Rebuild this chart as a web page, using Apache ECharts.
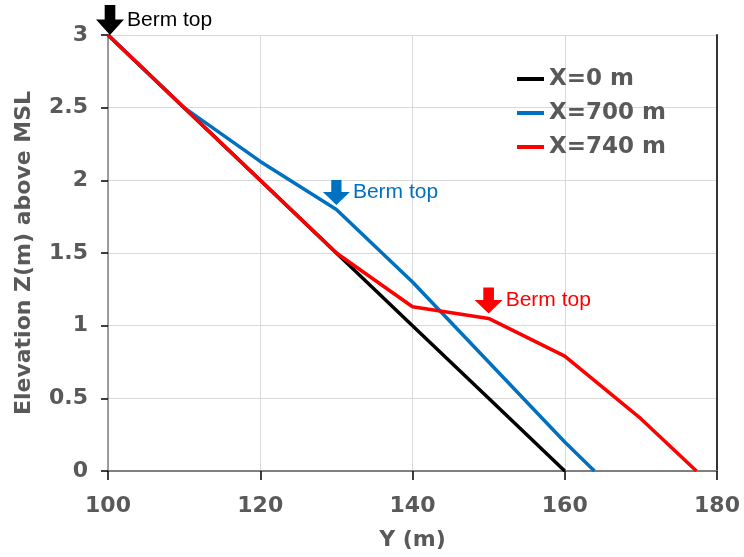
<!DOCTYPE html>
<html>
<head>
<meta charset="utf-8">
<script src="https://cdn.jsdelivr.net/npm/echarts@6/dist/echarts.min.js"></script>
<style>html,body{margin:0;padding:0;background:#fff}#c{width:744px;height:557px}</style>
</head>
<body>
<div id="c"></div>
<script>
const seriesNames = ['X=0 m', 'X=700 m', 'X=740 m'];
const blackY = [100, 110, 120, 130, 140, 150, 160];
const blackZ = [3, 2.5, 2, 1.5, 1, 0.5, 0];
const blueY = [100, 110, 120, 130, 140, 150, 160, 163.9];
const blueZ = [3, 2.5, 2.13, 1.8, 1.3, 0.75, 0.2, 0];
const redY = [100, 110, 120, 130, 140, 150, 160, 170, 177.3];
const redZ = [3, 2.5, 2, 1.5, 1.13, 1.05, 0.79, 0.36, 0];
const bermY = [100, 130, 150];
const bermZ = [3, 1.8, 1.05];
const bermLabel = 'Berm top';

const colors = ['#000000', '#0070C0', '#FF0000'];
const arrowPath = 'path://M31,0 L69,0 L69,48 L100,48 L50,100 L0,48 L31,48 Z';
const arrowSizes = [[28, 30], [27, 25], [28, 26]];
const arrowOffsets = [[2, -15], [0, -17], [0, -18]];

function pairs(xs, ys) { return xs.map((x, i) => [x, ys[i]]); }
const seriesData = [pairs(blackY, blackZ), pairs(blueY, blueZ), pairs(redY, redZ)];

const series = seriesData.map((d, i) => ({
  name: seriesNames[i],
  type: 'line',
  data: d,
  symbol: 'none',
  lineStyle: { color: colors[i], width: 3.5 },
  itemStyle: { color: colors[i] },
  z: 2 + i,
  markPoint: {
    symbol: arrowPath,
    symbolSize: arrowSizes[i],
    symbolOffset: arrowOffsets[i],
    itemStyle: { color: colors[i] },
    label: {
      show: true,
      position: 'right',
      distance: 3,
      formatter: bermLabel,
      color: colors[i],
      fontFamily: 'Liberation Sans, Arial, sans-serif',
      fontSize: 21
    },
    data: [{ coord: [bermY[i], bermZ[i]] }]
  }
}));

const labelStyle = { fontFamily: 'DejaVu Sans', fontWeight: 'bold', fontSize: 22, color: '#595959' };

const chart = echarts.init(document.getElementById('c'));
chart.setOption({
  animation: false,
  backgroundColor: '#fff',
  grid: { left: 108, right: 27, top: 35, bottom: 86 },
  legend: {
    orient: 'vertical',
    left: 512,
    top: 62,
    icon: 'rect',
    itemWidth: 27,
    itemHeight: 4,
    itemGap: 10,
    data: seriesNames,
    textStyle: { fontFamily: 'DejaVu Sans', fontWeight: 'bold', fontSize: 23, lineHeight: 24, color: '#595959' }
  },
  xAxis: [{
    type: 'value', min: 100, max: 180, interval: 20,
    name: 'Y (m)', nameLocation: 'middle', nameGap: 58,
    nameTextStyle: labelStyle,
    axisLine: { lineStyle: { color: '#000', width: 1.5 } },
    axisTick: { show: true, length: 9, lineStyle: { color: '#000', width: 1.5 } },
    axisLabel: Object.assign({ margin: 24 }, labelStyle),
    splitLine: { show: true, lineStyle: { color: '#d9d9d9', width: 1 } }
  }, {
    type: 'value', position: 'top', min: 100, max: 180,
    axisLine: { show: true, lineStyle: { color: '#7f7f7f', width: 2 } },
    axisTick: { show: false }, axisLabel: { show: false }, splitLine: { show: false }
  }],
  yAxis: [{
    type: 'value', min: 0, max: 3, interval: 0.5,
    name: 'Elevation Z(m) above MSL', nameLocation: 'middle', nameGap: 73,
    nameTextStyle: labelStyle,
    axisLine: { show: true, lineStyle: { color: '#7f7f7f', width: 1.5 } },
    axisTick: { show: true, length: 7, lineStyle: { color: '#000', width: 1.5 } },
    axisLabel: Object.assign({ margin: 20 }, labelStyle),
    splitLine: { show: true, lineStyle: { color: '#d9d9d9', width: 1 } }
  }, {
    type: 'value', position: 'right', min: 0, max: 3,
    axisLine: { show: true, lineStyle: { color: '#333', width: 2 } },
    axisTick: { show: false }, axisLabel: { show: false }, splitLine: { show: false }
  }],
  series: series
});
</script>
</body>
</html>
